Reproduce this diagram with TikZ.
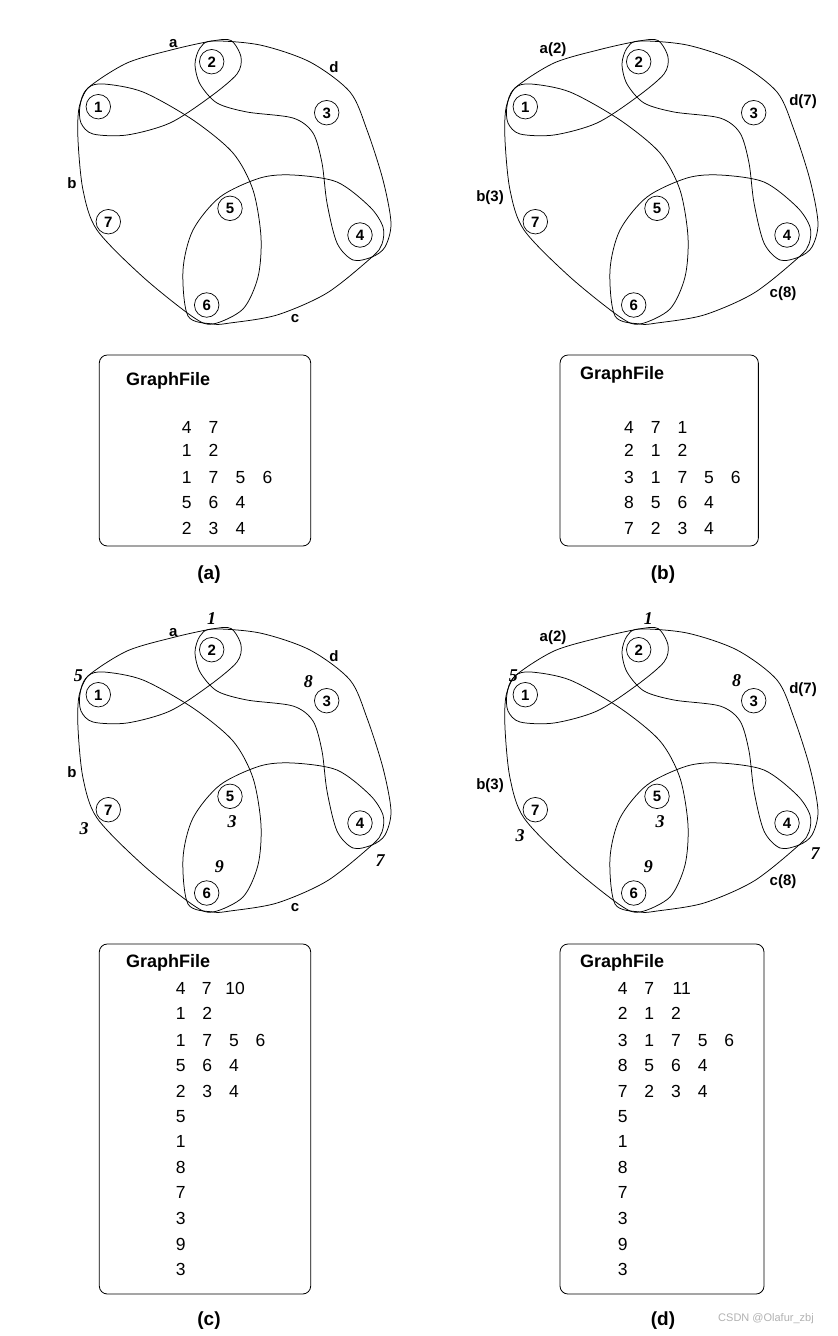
\documentclass[tikz,border=0pt]{standalone}
\usepackage{fontspec}
\setmainfont{Liberation Sans}
\newfontfamily\itserif{Liberation Serif}
\begin{document}
\begin{tikzpicture}[x=1pt,y=-1pt,
  vtx/.style={circle,draw,line width=0.7pt,minimum size=24.5pt,inner sep=0pt,text height=10.8pt,text depth=0pt,font=\fontsize{15}{17}\selectfont\bfseries},
  hedge/.style={line width=0.75pt},
  elab/.style={inner sep=0pt,text height=11pt,text depth=3pt,font=\fontsize{15}{17}\selectfont\bfseries},
  wlab/.style={inner sep=0pt,text height=12pt,text depth=0pt,font=\fontsize{18}{20}\selectfont\itserif\itshape\bfseries},
  gbox/.style={draw,line width=0.8pt,rounded corners=8pt,inner sep=0pt},
  gtitle/.style={anchor=west,inner sep=0pt,text height=13pt,text depth=4pt,font=\fontsize{18}{20}\selectfont\bfseries},
  num/.style={inner sep=0pt,text height=12.6pt,text depth=0pt,font=\fontsize{17.5}{20}\selectfont},
  captxt/.style={inner sep=0pt,text height=14pt,text depth=4pt,font=\fontsize{19}{22}\selectfont\bfseries}]
\useasboundingbox[fill=white] (0,0) rectangle (838,1336);

\newcommand\hgraph[3]{%
\begin{scope}[shift={(#2,#3)}]
 \node[vtx] (#1n1) at (98.3,106.7) {1};
 \node[vtx] (#1n2) at (211.7,61.7) {2};
 \node[vtx] (#1n3) at (326.7,112.7) {3};
 \node[vtx] (#1n4) at (360,235) {4};
 \node[vtx] (#1n5) at (230,208.3) {5};
 \node[vtx] (#1n6) at (206.7,305) {6};
 \node[vtx] (#1n7) at (108.3,221.7) {7};
 % edge a : {1,2}
 \draw[hedge] plot[smooth cycle] coordinates {(88,88) (127,63) (173,49.5) (212,41) (231,40.5) (241,57) (237,74) (210,97) (170,123) (127,135) (93,134) (81,123) (80,106)};
 % edge b : {1,7,5,6}
 \draw[hedge] plot[smooth cycle] coordinates {(88,88) (104,84) (143,92) (193,120) (233,153) (253,190) (261,237) (258,277) (243,309) (213,324) (193,317) (143,277) (97,230) (83,190) (78,140) (79,108)};
 % edge c : {5,6,4}
 \draw[hedge] plot[smooth cycle] coordinates {(213,324) (188,316) (183,270) (193,230) (220,197) (260,178) (293,175) (337,182) (370,207) (383,227) (382,244) (372,257) (327,293) (277,315) (230,323)};
 % edge d : {2,3,4}
 \draw[hedge] plot[smooth cycle] coordinates {(212,41) (260,45) (310,62) (350,92) (367,130) (383,180) (391,223) (385,247) (372,257) (353,260) (337,243) (327,203) (322,163) (313,133) (293,118) (247,112) (217,103) (200,84) (195,64) (200,48)};
\end{scope}}

% ---------- (a) ----------
\hgraph{a}{0}{0}
\node[elab] (aLa) at (173.3,43) {a};
\node[elab] (aLd) at (334,68) {d};
\node[elab] (aLb) at (72,184) {b};
\node[elab] (aLc) at (295,318) {c};

% ---------- (b) ----------
\hgraph{b}{427}{0}
\node[elab] (bLa) at (553,49) {a(2)};
\node[elab] (bLd) at (803,101) {d(7)};
\node[elab] (bLb) at (490,197) {b(3)};
\node[elab] (bLc) at (783,293) {c(8)};

% ---------- (c) ----------
\hgraph{c}{0}{588}
\node[elab] (cLa) at (173.3,632) {a};
\node[elab] (cLd) at (334,657) {d};
\node[elab] (cLb) at (72,773) {b};
\node[elab] (cLc) at (295,907) {c};
\node[wlab] (cW1) at (211.7,618) {1};
\node[wlab] (cW5) at (78.3,675) {5};
\node[wlab] (cW8) at (308.3,681) {8};
\node[wlab] (cW3a) at (84,828) {3};
\node[wlab] (cW3b) at (232,821) {3};
\node[wlab] (cW9) at (219.3,866) {9};
\node[wlab] (cW7) at (380,860) {7};

% ---------- (d) ----------
\hgraph{d}{427}{588}
\node[elab] (dLa) at (553,637) {a(2)};
\node[elab] (dLd) at (803,689) {d(7)};
\node[elab] (dLb) at (490,785) {b(3)};
\node[elab] (dLc) at (783,881) {c(8)};
\node[wlab] (dW1) at (648.3,618) {1};
\node[wlab] (dW5) at (513.3,675) {5};
\node[wlab] (dW8) at (736.7,680) {8};
\node[wlab] (dW3a) at (520,835) {3};
\node[wlab] (dW3b) at (660,821) {3};
\node[wlab] (dW9) at (648.3,866) {9};
\node[wlab] (dW7) at (815,853) {7};

% ---------- GraphFile boxes ----------
\node[gbox,minimum width=211.4pt,minimum height=191pt] (boxa) at (205,450.5) {};
\node[gtitle] (ta) at (126,380.7) {GraphFile};
\foreach \r/\y/\vals in {1/426.7/{4,7},2/450/{1,2},3/477.3/{1,7,5,6},4/501.7/{5,6,4},5/528.3/{2,3,4}}{
  \foreach \v [count=\c] in \vals {
    \node[num] (a-\r-\c) at ({186.7+26.9*(\c-1)},\y) {\v};
  }
}

\node[gbox,minimum width=198.3pt,minimum height=191pt] (boxb) at (659.2,450.5) {};
\node[gtitle] (tb) at (580,375) {GraphFile};
\foreach \r/\y/\vals in {1/426.7/{4,7,1},2/450/{2,1,2},3/476.7/{3,1,7,5,6},4/501.7/{8,5,6,4},5/528.3/{7,2,3,4}}{
  \foreach \v [count=\c] in \vals {
    \node[num] (b-\r-\c) at ({629+26.7*(\c-1)},\y) {\v};
  }
}

\node[gbox,minimum width=211.4pt,minimum height=350pt] (boxc) at (205,1119) {};
\node[gtitle] (tc) at (126,962.7) {GraphFile};
\node[num] (c-1-1) at (180.7,988.3) {4};
\node[num] (c-1-2) at (206.7,988.3) {7};
\node[num] (c-1-3) at (235,988.3) {10};
\foreach \r/\y/\vals in {2/1013.3/{1,2},3/1040/{1,7,5,6},4/1065/{5,6,4},5/1090.7/{2,3,4}}{
  \foreach \v [count=\c] in \vals {
    \node[num] (c-\r-\c) at ({180.7+26.6*(\c-1)},\y) {\v};
  }
}
\foreach \v [count=\r] in {5,1,8,7,3,9,3}{
  \node[num] (c-x-\r) at (180.7,{1115.7+25.6*(\r-1)}) {\v};
}

\node[gbox,minimum width=204pt,minimum height=350pt] (boxd) at (662,1119) {};
\node[gtitle] (td) at (580,962.7) {GraphFile};
\node[num] (d-1-1) at (622.7,988.3) {4};
\node[num] (d-1-2) at (649.3,988.3) {7};
\node[num] (d-1-3) at (681.7,988.3) {11};
\foreach \r/\y/\vals in {2/1013.3/{2,1,2},3/1040/{3,1,7,5,6},4/1065/{8,5,6,4},5/1090.7/{7,2,3,4}}{
  \foreach \v [count=\c] in \vals {
    \node[num] (d-\r-\c) at ({622.7+26.65*(\c-1)},\y) {\v};
  }
}
\foreach \v [count=\r] in {5,1,8,7,3,9,3}{
  \node[num] (d-x-\r) at (622.7,{1115.7+25.6*(\r-1)}) {\v};
}

% ---------- captions ----------
\node[captxt] (capa) at (209,574) {(a)};
\node[captxt] (capb) at (663,574) {(b)};
\node[captxt] (capc) at (209,1320) {(c)};
\node[captxt] (capd) at (663,1320) {(d)};

% watermark
\node[inner sep=0pt,text=black!30,font=\fontsize{11}{13}\selectfont] (wm) at (766,1319) {CSDN @Olafur\_zbj};
\end{tikzpicture}
\end{document}
